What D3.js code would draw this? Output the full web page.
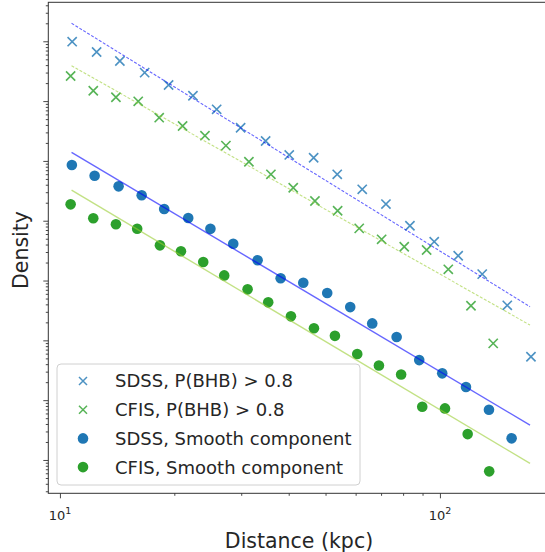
<!DOCTYPE html>
<html>
<head>
<meta charset="utf-8">
<script src="https://cdn.jsdelivr.net/npm/d3@7"></script>
<style>
    body { margin: 0; background: #fff; }
    svg { display: block; font-family: "DejaVu Sans", sans-serif; }
</style>
</head>
<body>
<div id="chartContainer"></div>
<script>
// distances (kpc) and densities
var sdssBhbDist = [10.77, 12.49, 14.38, 16.71, 19.32, 22.39, 25.85, 29.89, 34.78, 40.13,
    46.52, 53.67, 62.45, 72.10, 83.38, 96.60, 111.7, 129.2, 150.4, 173.6];
var sdssBhbDens = [0.0985, 0.0662, 0.0468, 0.0299, 0.0186, 0.0123, 7.29e-3, 3.59e-3, 2.15e-3, 1.26e-3,
    1.13e-3, 5.97e-4, 3.35e-4, 1.90e-4, 8.25e-5, 4.46e-5, 2.60e-5, 1.28e-5, 3.85e-6, 5.32e-7];

var cfisBhbDist = [10.67, 12.24, 14.04, 16.07, 18.25, 21.03, 24.08, 27.34, 31.43, 35.91,
    41.11, 46.89, 53.80, 61.32, 70.24, 80.55, 92.26, 105.2, 120.7, 138.1];
var cfisBhbDens = [0.0263, 0.0149, 0.0116, 9.92e-3, 5.28e-3, 3.83e-3, 2.64e-3, 1.80e-3, 9.70e-4, 5.97e-4,
    3.56e-4, 2.14e-4, 1.47e-4, 7.46e-5, 4.89e-5, 3.67e-5, 3.24e-5, 1.54e-5, 3.79e-6, 8.91e-7];

var sdssSmoothDist = [10.75, 12.34, 14.27, 16.41, 18.81, 21.76, 24.89, 28.58, 33.13, 38.09,
    43.69, 50.51, 58.07, 66.35, 76.92, 88.21, 101.4, 117.1, 134.6, 154.4];
var sdssSmoothDens = [8.54e-4, 5.66e-4, 3.76e-4, 2.66e-4, 1.57e-4, 1.11e-4, 7.32e-5, 4.12e-5, 2.18e-5, 1.09e-5,
    9.19e-6, 6.18e-6, 3.60e-6, 1.92e-6, 1.14e-6, 4.68e-7, 2.81e-7, 1.66e-7, 6.91e-8, 2.30e-8];

var cfisSmoothDist = [10.67, 12.24, 14.04, 15.97, 18.33, 20.82, 23.83, 27.06, 31.18, 35.33,
    40.54, 46.61, 52.93, 60.59, 69.10, 79.05, 89.84, 103.1, 118.3, 134.8];
var cfisSmoothDens = [1.88e-4, 1.10e-4, 8.71e-5, 7.35e-5, 3.88e-5, 3.08e-5, 2.04e-5, 1.22e-5, 7.13e-6, 4.32e-6,
    2.52e-6, 1.59e-6, 1.19e-6, 5.90e-7, 3.79e-7, 2.68e-7, 7.76e-8, 7.29e-8, 2.71e-8, 6.45e-9];

// power-law fits, end points
var fitDist = [10.73, 172.6];
var sdssBhbFit = [0.200, 3.65e-6];
var cfisBhbFit = [0.0391, 1.80e-6];
var sdssSmoothFit = [1.39e-3, 3.83e-8];
var cfisSmoothFit = [3.26e-4, 8.77e-9];

var xMajor = [10, 100];
var xMajorLabels = [["10", "1"], ["10", "2"]];
var yMajor = [1e-1, 1e-2, 1e-3, 1e-4, 1e-5, 1e-6, 1e-7, 1e-8];

var legendLabels = ["SDSS, P(BHB) > 0.8", "CFIS, P(BHB) > 0.8",
    "SDSS, Smooth component", "CFIS, Smooth component"];

var W = 545, H = 552;
var plot = { left: 48.3, top: 2.3, right: 560, bottom: 493.3 };

var x = d3.scaleLog().domain([9.32, 207]).range([plot.left, plot.right]);
var y = d3.scaleLog().domain([2.773e-9, 0.4487]).range([plot.bottom, plot.top]);

var svg = d3.select("#chartContainer").append("svg")
    .attr("width", W)
    .attr("height", H);

// minor ticks
function minorTicks(lo, hi) {
    var out = [];
    for (var e = lo; e <= hi; e++) {
        for (var m = 2; m <= 9; m++) out.push(m * Math.pow(10, e));
    }
    return out;
}
var xMinor = minorTicks(0, 2).filter(function (v) { return v > 9.32 && v < 207; });
var yMinor = minorTicks(-9, -1).filter(function (v) { return v > 2.773e-9 && v < 0.4487; });

var xAxisMinor = svg.append("g")
    .attr("transform", "translate(0," + plot.bottom + ")")
    .call(d3.axisBottom(x).tickValues(xMinor).tickSize(2.5).tickFormat(""));
var xAxisMajor = svg.append("g")
    .attr("transform", "translate(0," + plot.bottom + ")")
    .call(d3.axisBottom(x).tickValues(xMajor).tickSize(5).tickFormat(""));
var yAxisMinor = svg.append("g")
    .attr("transform", "translate(" + plot.left + ",0)")
    .call(d3.axisLeft(y).tickValues(yMinor).tickSize(2.5).tickFormat(""));
var yAxisMajor = svg.append("g")
    .attr("transform", "translate(" + plot.left + ",0)")
    .call(d3.axisLeft(y).tickValues(yMajor).tickSize(5).tickFormat(""));

svg.selectAll(".domain").remove();
svg.selectAll(".tick line").attr("stroke", "#333").attr("stroke-width", 0.9);

// x tick labels as 10^n
xMajor.forEach(function (v, i) {
    var t = svg.append("text")
        .attr("x", x(v))
        .attr("y", 520)
        .attr("text-anchor", "middle")
        .attr("fill", "#262626")
        .style("font-size", "13px");
    t.append("tspan").text(xMajorLabels[i][0]);
    t.append("tspan")
        .attr("dy", -6)
        .style("font-size", "9.5px")
        .text(xMajorLabels[i][1]);
});

// frame
svg.append("rect")
    .attr("x", plot.left)
    .attr("y", plot.top)
    .attr("width", plot.right - plot.left)
    .attr("height", plot.bottom - plot.top)
    .attr("fill", "none")
    .attr("stroke", "#333")
    .attr("stroke-width", 1);

function zip(xs, ys) {
    return xs.map(function (d, i) { return { x: d, y: ys[i] }; });
}

var crossPath = "M-4.6,-4.6L4.6,4.6M-4.6,4.6L4.6,-4.6";

function drawCrosses(data, color) {
    svg.append("g").selectAll("path")
        .data(data)
        .enter().append("path")
        .attr("d", crossPath)
        .attr("transform", function (d) { return "translate(" + x(d.x) + "," + y(d.y) + ")"; })
        .attr("stroke", color)
        .attr("stroke-width", 1.6)
        .attr("stroke-opacity", 0.8)
        .attr("fill", "none");
}

function drawDots(data, color) {
    svg.append("g").selectAll("circle")
        .data(data)
        .enter().append("circle")
        .attr("cx", function (d) { return x(d.x); })
        .attr("cy", function (d) { return y(d.y); })
        .attr("r", 5.3)
        .attr("fill", color);
}

drawCrosses(zip(sdssBhbDist, sdssBhbDens), "#1f77b4");
drawCrosses(zip(cfisBhbDist, cfisBhbDens), "#2ca02c");
drawDots(zip(sdssSmoothDist, sdssSmoothDens), "#1f77b4");
drawDots(zip(cfisSmoothDist, cfisSmoothDens), "#2ca02c");

var line = d3.line()
    .x(function (d) { return x(d.x); })
    .y(function (d) { return y(d.y); });

function drawFit(vals, color, dashed) {
    svg.append("path")
        .datum(zip(fitDist, vals))
        .attr("d", line)
        .attr("fill", "none")
        .attr("stroke", color)
        .attr("stroke-opacity", 0.6)
        .attr("stroke-width", dashed ? 1.1 : 1.4)
        .attr("stroke-dasharray", dashed ? "3,1.6" : null);
}

drawFit(sdssBhbFit, "blue", true);
drawFit(cfisBhbFit, "yellowgreen", true);
drawFit(sdssSmoothFit, "blue", false);
drawFit(cfisSmoothFit, "yellowgreen", false);

// axis titles
svg.append("text")
    .attr("x", 299)
    .attr("y", 548)
    .attr("text-anchor", "middle")
    .attr("fill", "#262626")
    .style("font-size", "20.5px")
    .text("Distance (kpc)");

svg.append("text")
    .attr("transform", "translate(28,250) rotate(-90)")
    .attr("text-anchor", "middle")
    .attr("fill", "#262626")
    .style("font-size", "20.5px")
    .text("Density");

// legend
var legend = svg.append("g");
legend.append("rect")
    .attr("x", 57)
    .attr("y", 364)
    .attr("width", 303)
    .attr("height", 121)
    .attr("rx", 4)
    .attr("fill", "#fff")
    .attr("fill-opacity", 0.8)
    .attr("stroke", "#d0d0d0")
    .attr("stroke-width", 1);

var legendColors = ["#1f77b4", "#2ca02c", "#1f77b4", "#2ca02c"];
legendLabels.forEach(function (label, i) {
    var ly = 381 + i * 28.7;
    if (i < 2) {
        legend.append("path")
            .attr("d", "M-4,-4L4,4M-4,4L4,-4")
            .attr("transform", "translate(83," + ly + ")")
            .attr("stroke", legendColors[i])
            .attr("stroke-width", 1.5)
            .attr("stroke-opacity", 0.8)
            .attr("fill", "none");
    } else {
        legend.append("circle")
            .attr("cx", 83)
            .attr("cy", ly)
            .attr("r", 5.3)
            .attr("fill", legendColors[i]);
    }
    legend.append("text")
        .attr("x", 115)
        .attr("y", ly)
        .attr("dy", "0.36em")
        .attr("fill", "#262626")
        .style("font-size", "18px")
        .text(label);
});
</script>
</body>
</html>
